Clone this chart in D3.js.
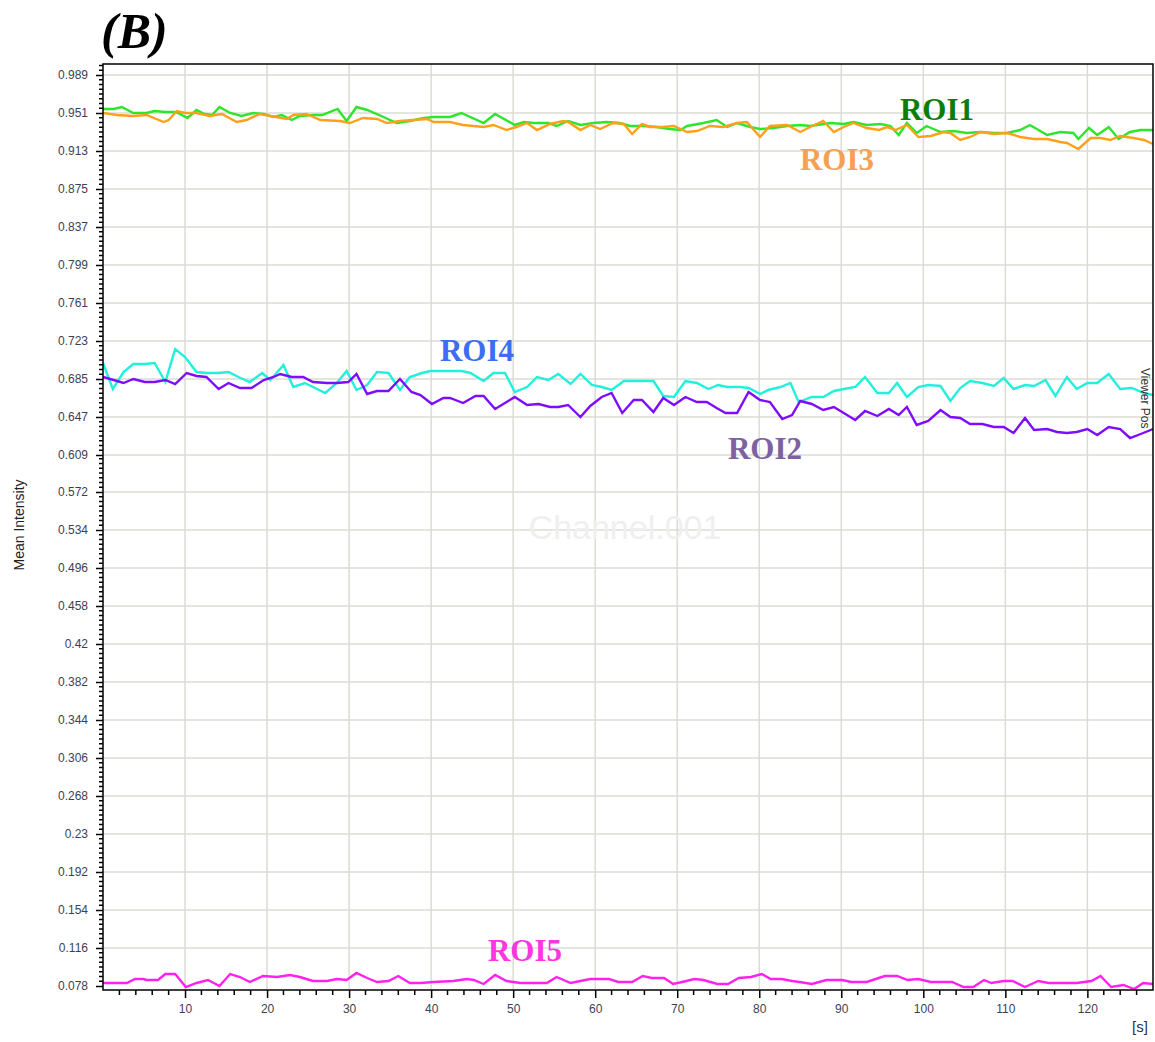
<!DOCTYPE html>
<html>
<head>
<meta charset="utf-8">
<script src="https://cdn.jsdelivr.net/npm/d3@7"></script>
<style>
  html, body { margin: 0; padding: 0; background: #ffffff; }
  svg { display: block; }
</style>
</head>
<body>
<svg id="chart" width="1155" height="1042"></svg>
<script>
// ---------- DATA (time [s], mean intensity) ----------
const roi1 = [[0,0.955],[1.3,0.955],[2.3,0.957],[3.7,0.951],[5.3,0.951],[6.3,0.953],[7.6,0.952],[8.8,0.952],[9.4,0.950],[10.3,0.946],[11.4,0.954],[12.4,0.950],[13.3,0.949],[14.2,0.957],[15.5,0.951],[16.9,0.948],[18.3,0.951],[19.6,0.950],[20.8,0.947],[21.8,0.949],[23.0,0.944],[24.0,0.948],[25.6,0.949],[26.7,0.949],[28.6,0.955],[29.7,0.943],[30.9,0.957],[32.2,0.954],[34.2,0.947],[35.8,0.941],[37.4,0.943],[39.1,0.946],[40.3,0.947],[42.3,0.947],[43.7,0.951],[46.4,0.941],[47.8,0.950],[50.2,0.939],[51.3,0.942],[52.5,0.941],[54.3,0.941],[55.3,0.938],[56.7,0.943],[58.2,0.939],[59.8,0.941],[61.4,0.942],[63.0,0.941],[64.3,0.938],[65.9,0.938],[67.5,0.937],[69.1,0.935],[70.4,0.934],[71.2,0.938],[73.2,0.941],[74.8,0.944],[76.1,0.937],[77.3,0.941],[78.9,0.937],[80.1,0.935],[81.7,0.936],[83.4,0.938],[85.0,0.939],[86.2,0.938],[88.7,0.941],[90.3,0.940],[91.5,0.942],[93.1,0.939],[94.8,0.940],[96.0,0.938],[97.0,0.929],[98.0,0.941],[99.2,0.931],[100.4,0.938],[102.1,0.932],[103.7,0.933],[105.3,0.931],[107.0,0.932],[108.6,0.931],[110.2,0.931],[111.8,0.934],[113.0,0.939],[115.1,0.929],[116.7,0.932],[118.3,0.931],[118.9,0.925],[120.2,0.936],[121.2,0.929],[122.6,0.937],[123.8,0.925],[125.2,0.932],[126.5,0.934],[128,0.934]];

const roi3 = [[0,0.951],[1.7,0.949],[3.7,0.948],[5.3,0.949],[7.4,0.942],[8.0,0.944],[9.0,0.953],[10.0,0.951],[11.4,0.951],[13.0,0.948],[14.5,0.950],[16.3,0.942],[17.5,0.944],[19.1,0.950],[20.4,0.948],[21.8,0.946],[22.4,0.945],[23.2,0.949],[24.8,0.950],[26.5,0.944],[28.9,0.943],[30.1,0.941],[31.7,0.946],[33.4,0.945],[34.6,0.941],[36.2,0.943],[37.8,0.944],[39.5,0.945],[40.3,0.942],[42.3,0.942],[43.9,0.939],[46.4,0.937],[47.6,0.939],[49.2,0.934],[50.4,0.937],[51.7,0.941],[52.9,0.934],[54.5,0.940],[56.1,0.943],[56.7,0.942],[58.2,0.934],[59.4,0.939],[60.6,0.935],[62.2,0.941],[63.5,0.940],[64.5,0.930],[65.7,0.940],[66.7,0.937],[68.3,0.937],[69.6,0.938],[71.2,0.932],[72.4,0.933],[74.0,0.938],[75.6,0.937],[77.3,0.941],[78.5,0.942],[80.1,0.927],[81.3,0.938],[83.4,0.939],[85.0,0.932],[86.2,0.937],[87.8,0.943],[89.1,0.932],[90.3,0.937],[91.5,0.941],[93.1,0.936],[94.6,0.934],[95.6,0.937],[96.6,0.934],[98.0,0.939],[99.4,0.927],[100.9,0.928],[102.5,0.932],[103.3,0.931],[104.5,0.924],[105.7,0.927],[107.0,0.932],[108.6,0.930],[110.2,0.931],[111.8,0.927],[113.5,0.925],[115.1,0.925],[116.7,0.922],[117.5,0.921],[118.9,0.915],[120.4,0.926],[121.6,0.926],[122.8,0.924],[124.0,0.928],[125.6,0.926],[126.9,0.924],[128,0.920]];

const roi4 = [[0,0.701],[1.2,0.675],[2.5,0.692],[3.7,0.700],[5.1,0.700],[6.3,0.701],[7.6,0.682],[8.8,0.715],[10.0,0.707],[11.4,0.692],[12.6,0.691],[14.1,0.691],[15.3,0.692],[16.5,0.687],[17.9,0.682],[19.4,0.691],[20.4,0.684],[22.0,0.699],[23.2,0.677],[24.6,0.681],[25.6,0.677],[27.1,0.671],[28.5,0.681],[29.7,0.693],[30.9,0.674],[32.2,0.679],[33.4,0.692],[34.8,0.691],[36.2,0.674],[37.4,0.687],[38.9,0.691],[39.9,0.693],[42.3,0.693],[43.7,0.693],[44.8,0.691],[46.4,0.683],[47.6,0.691],[49.0,0.691],[50.2,0.672],[51.7,0.677],[52.9,0.687],[54.3,0.684],[55.5,0.690],[57.0,0.680],[58.2,0.690],[59.6,0.679],[60.8,0.677],[62.0,0.674],[63.5,0.683],[65.1,0.683],[67.1,0.683],[68.3,0.668],[69.6,0.667],[71.0,0.683],[72.4,0.681],[73.8,0.675],[75.0,0.679],[76.1,0.677],[77.7,0.677],[78.7,0.676],[80.1,0.670],[81.1,0.674],[82.6,0.677],[83.8,0.681],[84.8,0.662],[86.4,0.667],[87.8,0.667],[89.1,0.673],[90.3,0.675],[91.7,0.677],[92.9,0.687],[94.4,0.671],[95.8,0.671],[96.8,0.681],[98.0,0.667],[99.4,0.677],[100.6,0.679],[102.1,0.678],[103.3,0.663],[104.5,0.676],[105.7,0.683],[107.2,0.681],[108.6,0.678],[109.8,0.686],[111.0,0.675],[112.4,0.679],[113.5,0.678],[114.9,0.684],[116.1,0.668],[117.5,0.687],[118.7,0.675],[120.0,0.681],[121.2,0.681],[122.6,0.690],[124.0,0.675],[125.4,0.676],[126.9,0.671],[128,0.669]];

const roi2 = [[0,0.687],[1.3,0.684],[2.5,0.681],[3.7,0.685],[5.1,0.682],[6.3,0.682],[7.6,0.684],[8.8,0.680],[10.2,0.691],[11.4,0.688],[12.6,0.687],[14.1,0.675],[15.3,0.681],[16.7,0.676],[18.1,0.676],[19.6,0.684],[20.8,0.687],[21.6,0.690],[23.0,0.687],[24.4,0.687],[25.6,0.682],[27.3,0.681],[28.5,0.681],[29.9,0.682],[30.9,0.690],[32.2,0.670],[33.4,0.673],[34.8,0.673],[36.2,0.685],[37.6,0.672],[38.7,0.669],[40.1,0.660],[41.5,0.666],[42.3,0.666],[43.9,0.661],[45.4,0.668],[46.4,0.668],[47.8,0.655],[49.0,0.661],[50.2,0.667],[51.7,0.659],[53.1,0.660],[54.5,0.657],[55.5,0.657],[56.7,0.659],[58.2,0.647],[59.4,0.658],[60.8,0.667],[62.0,0.671],[63.3,0.651],[64.7,0.664],[65.7,0.664],[67.1,0.652],[68.3,0.666],[69.6,0.659],[71.0,0.667],[72.4,0.662],[73.6,0.662],[74.8,0.656],[75.9,0.651],[77.3,0.651],[78.7,0.672],[80.1,0.664],[81.3,0.662],[82.8,0.645],[84.0,0.649],[85.0,0.663],[86.4,0.660],[87.8,0.654],[89.1,0.657],[90.3,0.651],[91.7,0.644],[92.9,0.653],[94.4,0.648],[95.8,0.655],[97.0,0.649],[98.0,0.657],[99.2,0.639],[100.6,0.643],[102.1,0.654],[103.3,0.647],[104.5,0.646],[105.7,0.640],[107.2,0.640],[108.6,0.637],[109.8,0.637],[111.0,0.631],[112.4,0.646],[113.5,0.634],[115.1,0.635],[116.3,0.632],[117.5,0.631],[118.7,0.632],[120.0,0.635],[121.2,0.629],[122.6,0.637],[124.0,0.635],[125.2,0.626],[126.5,0.630],[128,0.635]];

const roi5 = [[0,0.081],[2.9,0.081],[3.9,0.085],[4.9,0.085],[5.3,0.084],[6.7,0.084],[7.6,0.090],[8.8,0.090],[10.1,0.077],[11.4,0.081],[12.8,0.084],[14.2,0.078],[15.5,0.090],[16.7,0.087],[17.9,0.082],[19.5,0.088],[21.2,0.087],[22.8,0.089],[24.0,0.087],[25.6,0.083],[27.3,0.083],[28.5,0.085],[29.7,0.084],[30.9,0.091],[32.2,0.086],[33.4,0.082],[34.8,0.083],[36.0,0.088],[37.4,0.081],[38.7,0.081],[40.3,0.082],[42.7,0.083],[44.4,0.085],[45.2,0.084],[46.4,0.080],[47.8,0.089],[49.2,0.083],[50.9,0.081],[52.5,0.081],[54.1,0.081],[55.3,0.087],[57.0,0.081],[58.2,0.083],[59.4,0.085],[60.6,0.085],[61.7,0.085],[62.8,0.082],[64.5,0.082],[65.8,0.088],[66.9,0.086],[68.4,0.086],[69.5,0.080],[70.6,0.082],[72.1,0.085],[73.2,0.084],[74.9,0.080],[76.2,0.080],[77.5,0.086],[79.0,0.087],[80.3,0.090],[81.4,0.085],[82.7,0.085],[84.0,0.083],[84.9,0.082],[86.4,0.080],[88.2,0.084],[90.1,0.084],[91.2,0.082],[93.1,0.082],[95.3,0.088],[96.8,0.088],[98.1,0.084],[99.4,0.085],[100.9,0.082],[103.5,0.082],[104.9,0.077],[106.1,0.077],[107.4,0.084],[108.3,0.081],[109.8,0.083],[110.9,0.083],[112.4,0.077],[114.0,0.083],[115.3,0.081],[118.7,0.081],[120.5,0.083],[121.6,0.088],[122.9,0.077],[124.4,0.079],[125.7,0.075],[126.8,0.081],[128,0.080]];

const seriesNames = ["ROI1", "ROI3", "ROI4", "ROI2", "ROI5"];
const xTickLabels = [10, 20, 30, 40, 50, 60, 70, 80, 90, 100, 110, 120];
const yTickLabels = ["0.078","0.116","0.154","0.192","0.23","0.268","0.306","0.344","0.382","0.42","0.458","0.496","0.534","0.572","0.609","0.647","0.685","0.723","0.761","0.799","0.837","0.875","0.913","0.951","0.989"];

(function draw() {
  const series = [
    {data: roi1, line: "#2be62b", label: "#0c7d0c", lx: 937, ly: 120},
    {data: roi3, line: "#ffa01c", label: "#f6a152", lx: 837, ly: 170},
    {data: roi4, line: "#22f0da", label: "#3b6ef2", lx: 477, ly: 361},
    {data: roi2, line: "#7f0cff", label: "#7c62a3", lx: 765, ly: 459},
    {data: roi5, line: "#ff22ee", label: "#ff36e0", lx: 525, ly: 961}
  ];
  series.forEach((s, i) => s.name = seriesNames[i]);

  const svg = d3.select("#chart");
  const pL = 103, pR = 1153, pT = 64, pB = 990;
  const x = d3.scaleLinear().domain([0, 128]).range([pL, pR]);
  const y = d3.scaleLinear().domain([0.074, 1.0]).range([pB, pT]);

  const gridColor = "#dcdcd4";
  const tickText = "#3d3f55";
  const font = "'Liberation Sans', Arial, sans-serif";

  // Gridlines
  const grid = svg.append("g");
  grid.selectAll("line.v").data(xTickLabels).enter().append("line")
    .attr("x1", d => x(d)).attr("x2", d => x(d))
    .attr("y1", pT).attr("y2", pB)
    .attr("stroke", gridColor).attr("stroke-width", 1.5);
  grid.selectAll("line.h").data(yTickLabels.slice(1)).enter().append("line")
    .attr("x1", pL).attr("x2", pR)
    .attr("y1", d => y(+d)).attr("y2", d => y(+d))
    .attr("stroke", gridColor).attr("stroke-width", 1.5);

  // Watermark
  svg.append("text").attr("x", 625).attr("y", 539)
    .attr("text-anchor", "middle").attr("font-family", font).attr("font-size", 34)
    .attr("fill", "#efefef").text("Channel.001");

  // Clip
  svg.append("defs").append("clipPath").attr("id", "clip")
    .append("rect").attr("x", pL).attr("y", pT).attr("width", pR - pL).attr("height", pB - pT);

  // Lines
  const line = d3.line().x(d => x(d[0])).y(d => y(d[1]));
  const lines = svg.append("g").attr("clip-path", "url(#clip)");
  series.forEach(s => {
    lines.append("path").datum(s.data)
      .attr("fill", "none").attr("stroke", s.line).attr("stroke-width", 2.4)
      .attr("stroke-linejoin", "miter").attr("d", line);
  });

  // Y axis
  const yAxis = d3.axisLeft(y)
    .tickValues(yTickLabels.map(Number))
    .tickFormat((d, i) => yTickLabels[i])
    .tickSize(7).tickPadding(8);
  const yG = svg.append("g").attr("transform", `translate(${pL},0)`).call(yAxis);
  yG.select(".domain").remove();
  yG.selectAll("text").attr("font-family", font).attr("font-size", 12).attr("fill", tickText);
  yG.selectAll(".tick line").attr("stroke", "#000").attr("stroke-width", 1.5);

  // Y minor ticks
  const yMinor = [];
  yTickLabels.forEach(lbl => {
    const a = +lbl, step = 0.038 / 8;
    for (let k = 1; k < 8; k++) {
      const v = a + k * step;
      if (v < 1.0) yMinor.push(v);
    }
  });
  svg.append("g").selectAll("line").data(yMinor).enter().append("line")
    .attr("x1", pL - 4).attr("x2", pL)
    .attr("y1", d => y(d)).attr("y2", d => y(d))
    .attr("stroke", "#000").attr("stroke-width", 1.5);

  // X axis
  const xAxis = d3.axisBottom(x).tickValues(xTickLabels).tickFormat(d3.format("d"))
    .tickSize(8).tickPadding(6);
  const xG = svg.append("g").attr("transform", `translate(0,${pB})`).call(xAxis);
  xG.select(".domain").remove();
  xG.selectAll("text").attr("font-family", font).attr("font-size", 12).attr("fill", tickText);
  xG.selectAll(".tick line").attr("stroke", "#000").attr("stroke-width", 1.5);

  // X minor ticks every 2 s
  const xMinor = d3.range(2, 128, 2).filter(d => d % 10 !== 0);
  svg.append("g").selectAll("line").data(xMinor).enter().append("line")
    .attr("x1", d => x(d)).attr("x2", d => x(d))
    .attr("y1", pB).attr("y2", pB + 5)
    .attr("stroke", "#000").attr("stroke-width", 1.5);

  // Frame
  svg.append("rect").attr("x", pL).attr("y", pT)
    .attr("width", pR - pL).attr("height", pB - pT)
    .attr("fill", "none").attr("stroke", "#000").attr("stroke-width", 1.5);

  // Axis titles
  svg.append("text").attr("transform", "translate(24,525) rotate(-90)")
    .attr("text-anchor", "middle").attr("font-family", font).attr("font-size", 14)
    .attr("fill", "#222").text("Mean Intensity");
  svg.append("text").attr("x", 1140).attr("y", 1032)
    .attr("text-anchor", "middle").attr("font-family", font).attr("font-size", 15)
    .attr("fill", "#2a2f55").text("[s]");
  svg.append("text").attr("transform", "translate(1141,368) rotate(90)")
    .attr("text-anchor", "start").attr("font-family", font).attr("font-size", 12)
    .attr("fill", "#333").text("Viewer Pos");

  // Series labels
  series.forEach(s => {
    svg.append("text").attr("x", s.lx).attr("y", s.ly)
      .attr("text-anchor", "middle")
      .attr("font-family", "'Liberation Serif', 'Times New Roman', serif")
      .attr("font-weight", "bold").attr("font-size", 31)
      .attr("fill", s.label).text(s.name);
  });

  // Panel title
  svg.append("text").attr("x", 101).attr("y", 48)
    .attr("font-family", "'Liberation Serif', 'Times New Roman', serif")
    .attr("font-weight", "bold").attr("font-style", "italic").attr("font-size", 50)
    .attr("fill", "#000").text("(B)");
})();
</script>
</body>
</html>
